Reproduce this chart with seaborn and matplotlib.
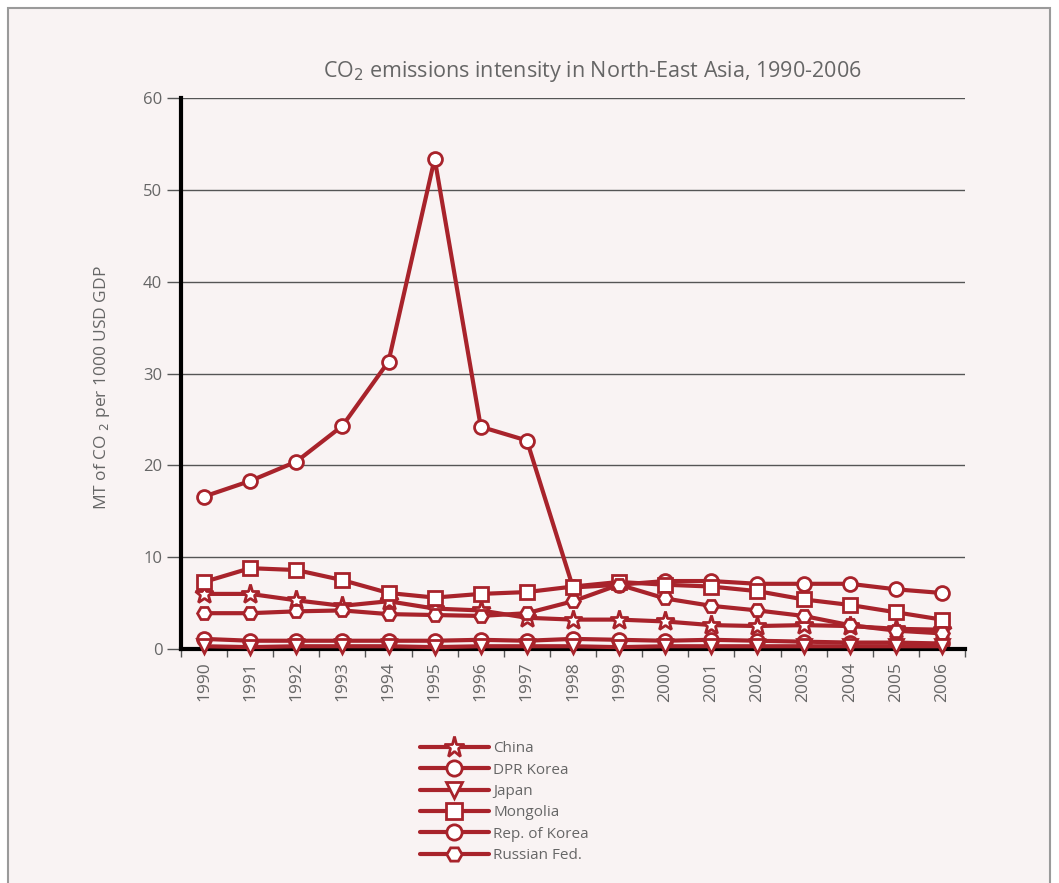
import pandas as pd
import matplotlib.pyplot as plt
import seaborn as sns
from matplotlib.patches import Rectangle

years = [str(y) for y in range(1990, 2007)]
countries = ["China", "DPR Korea", "Japan", "Mongolia", "Rep. of Korea", "Russian Fed."]
china = [6.0, 6.0, 5.3, 4.7, 5.2, 4.4, 4.2, 3.4, 3.2, 3.2, 3.0, 2.6, 2.5, 2.6, 2.5, 2.2, 2.1]
dpr_korea = [16.6, 18.3, 20.4, 24.3, 31.3, 53.4, 24.2, 22.7, 6.7, 7.0, 7.4, 7.4, 7.1, 7.1, 7.1, 6.5, 6.1]
japan = [0.3, 0.2, 0.3, 0.3, 0.3, 0.2, 0.3, 0.3, 0.3, 0.2, 0.3, 0.3, 0.3, 0.3, 0.3, 0.3, 0.3]
mongolia = [7.3, 8.8, 8.6, 7.5, 6.1, 5.6, 6.0, 6.2, 6.8, 7.3, 7.0, 6.8, 6.3, 5.4, 4.8, 4.0, 3.2]
rep_korea = [1.1, 0.9, 0.9, 0.9, 0.9, 0.9, 1.0, 0.9, 1.1, 1.0, 0.9, 1.0, 0.9, 0.8, 0.7, 0.7, 0.6]
russia = [3.9, 3.9, 4.1, 4.2, 3.8, 3.7, 3.6, 3.9, 5.2, 7.0, 5.5, 4.7, 4.2, 3.6, 2.6, 2.0, 1.7]

series = [china, dpr_korea, japan, mongolia, rep_korea, russia]
df = pd.DataFrame({
    "Year": years * len(countries),
    "Value": [v for s in series for v in s],
    "Country": [c for c in countries for _ in years],
})

red = "#A8232B"
bg = "#F9F3F3"
grey = "#666666"

sns.set_theme(style="white")
plt.rcParams["font.family"] = ["Open Sans", "DejaVu Sans"]

fig = plt.figure(figsize=(10.59, 8.83), dpi=100)
fig.patch.set_facecolor("white")
fig.patches.append(Rectangle((8 / 1059, -0.01), 1042 / 1059, 1 - 8 / 883 + 0.01,
                             transform=fig.transFigure, facecolor=bg,
                             edgecolor="#9a9a9a", lw=1.5, zorder=-5))
ax = fig.add_axes([181 / 1059, 1 - 649 / 883, 784 / 1059, 551 / 883])
ax.set_zorder(2)
ax.set_facecolor(bg)

markers = {"China": "*", "DPR Korea": "o", "Japan": "v", "Mongolia": "s",
           "Rep. of Korea": "o", "Russian Fed.": "H"}
sns.lineplot(data=df, x="Year", y="Value", style="Country", style_order=countries,
             markers=markers, dashes=False, color=red, lw=3, legend=False,
             sort=False, ax=ax)

for line, c in zip(ax.lines, countries):
    line.set_color(red)
    line.set_markerfacecolor("white")
    line.set_markeredgecolor(red)
    line.set_markeredgewidth(2)
    line.set_markersize(14 if c == "China" else 10)
    line.set_clip_on(False)
    line.set_zorder(5 if c == "Japan" else 3)

ax.set_ylim(0, 60)
ax.set_xlim(-0.5, 16.5)
ax.set_yticks(range(0, 61, 10))
ax.yaxis.grid(True, color="#555555", lw=1)
ax.set_axisbelow(True)
ax.set_xticks(range(len(years)))
ax.set_xticklabels(years, rotation=90, color=grey, fontsize=12.5)
ax.set_xticks([i - 0.5 for i in range(len(years) + 1)], minor=True)
ax.tick_params(axis="x", which="major", length=0, pad=9)
ax.tick_params(axis="x", which="minor", length=6, width=1, color="#555555", direction="out", bottom=True)
ax.tick_params(axis="y", length=10, width=1, color="#555555", direction="out", left=True,
               labelcolor=grey, labelsize=12)

for s in ["top", "right"]:
    ax.spines[s].set_visible(False)
for s in ["left", "bottom"]:
    ax.spines[s].set_color("black")
    ax.spines[s].set_linewidth(3)
    ax.spines[s].set_zorder(4)

ax.set_xlabel("")
ax.set_ylabel("MT of CO $_2$ per 1000 USD GDP", color=grey, fontsize=12.5)
ax.yaxis.set_label_coords(-0.088, 0.475)
fig.text(592 / 1059, 1 - 72 / 883, "CO$_2$ emissions intensity in North-East Asia, 1990-2006",
         ha="center", va="center", color=grey, fontsize=15.5)

fig.legend(ax.lines[:6], countries, loc="upper left", bbox_to_anchor=(414 / 1059, 1 - 735 / 883),
           frameon=False, numpoints=1, handlelength=4.5, handletextpad=0.3, markerscale=1.1,
           labelspacing=0.42, fontsize=11, labelcolor=grey, borderaxespad=0)

plt.savefig("out.png", dpi=100)
